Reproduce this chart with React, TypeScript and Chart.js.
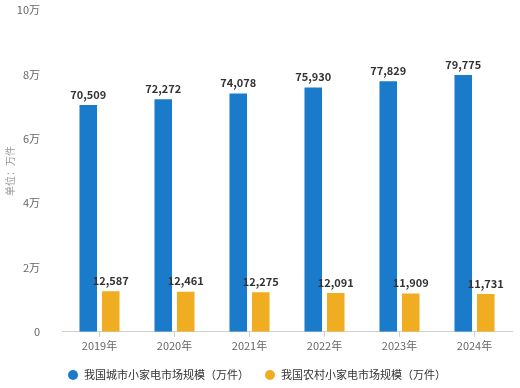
import React, { useEffect, useRef } from "react";
import { Chart, registerables } from "chart.js";

Chart.register(...registerables);

const categories = ["2019年", "2020年", "2021年", "2022年", "2023年", "2024年"];
const urbanValues = [70509, 72272, 74078, 75930, 77829, 79775];
const ruralValues = [12587, 12461, 12275, 12091, 11909, 11731];
const seriesNames = ["我国城市小家电市场规模（万件）", "我国农村小家电市场规模（万件）"];
const seriesColors = ["#1b7bcb", "#f0ad22"];
const yTickMax = 100000;
const yTickStep = 20000;

const FONT = "'Noto Sans CJK SC', 'Noto Sans', sans-serif";

const valueLabels = {
  id: "valueLabels",
  afterDatasetsDraw(chart: any) {
    const ctx = chart.ctx;
    ctx.save();
    ctx.font = `bold 11px ${FONT}`;
    ctx.fillStyle = "#333333";
    ctx.textAlign = "center";
    ctx.textBaseline = "bottom";
    chart.data.datasets.forEach((ds: any, di: number) => {
      const meta = chart.getDatasetMeta(di);
      meta.data.forEach((bar: any, i: number) => {
        const v = ds.data[i] as number;
        ctx.fillText(v.toLocaleString("en-US"), bar.x, bar.y - 5);
      });
    });
    ctx.restore();
  },
};

const bottomLegend = {
  id: "bottomLegend",
  afterDraw(chart: any) {
    const ctx = chart.ctx;
    ctx.save();
    ctx.font = `11px ${FONT}`;
    ctx.textBaseline = "middle";
    ctx.textAlign = "left";
    const y = 375;
    const starts = [73, 270];
    chart.data.datasets.forEach((ds: any, di: number) => {
      const cx = starts[di];
      ctx.beginPath();
      ctx.arc(cx, y, 5, 0, Math.PI * 2);
      ctx.fillStyle = ds.backgroundColor;
      ctx.fill();
      ctx.fillStyle = "#333333";
      ctx.fillText(ds.label, cx + 11, y);
    });
    ctx.restore();
  },
};

export default function App() {
  const ref = useRef<HTMLCanvasElement | null>(null);
  useEffect(() => {
    document.body.style.margin = "0";
    if (!ref.current) return;
    const chart = new Chart(ref.current, {
      type: "bar",
      data: {
        labels: categories,
        datasets: [
          {
            label: seriesNames[0],
            data: urbanValues,
            backgroundColor: seriesColors[0],
            categoryPercentage: 0.6,
            barPercentage: 0.78,
          },
          {
            label: seriesNames[1],
            data: ruralValues,
            backgroundColor: seriesColors[1],
            categoryPercentage: 0.6,
            barPercentage: 0.78,
          },
        ],
      },
      options: {
        animation: false,
        responsive: false,
        layout: { padding: { left: 4, right: 8, top: 0, bottom: 34 } },
        plugins: {
          legend: { display: false },
          tooltip: { enabled: false },
        },
        scales: {
          x: {
            grid: {
              display: true,
              drawOnChartArea: false,
              offset: false,
              tickLength: 5,
              color: "#d0d0d0",
            },
            border: { display: true, color: "#d0d0d0" },
            ticks: {
              color: "#666666",
              font: { family: FONT, size: 11 },
              padding: 2,
            },
          },
          y: {
            min: 0,
            max: yTickMax,
            grid: { display: false },
            border: { display: false },
            ticks: {
              stepSize: yTickStep,
              color: "#666666",
              padding: 14,
              font: { family: FONT, size: 11 },
              callback: (v: any) => (v === 0 ? "0" : `${v / 10000}万`),
            },
            title: {
              display: true,
              text: "单位：万件",
              color: "#999999",
              font: { family: FONT, size: 10 },
              padding: 0,
            },
            afterFit: (scale: any) => {
              scale.width = 58;
              scale.paddingTop = 10;
            },
          },
        },
      },
      plugins: [valueLabels, bottomLegend],
    });
    return () => chart.destroy();
  }, []);
  return (
    <div style={{ width: 520, height: 388 }}>
      <canvas ref={ref} width={520} height={388} />
    </div>
  );
}
